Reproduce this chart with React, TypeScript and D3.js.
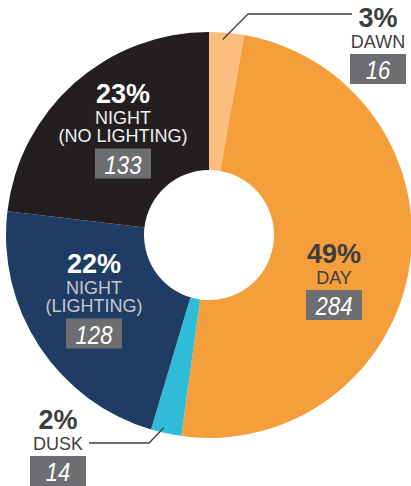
import React from "react";
import * as d3 from "d3";

const categories = ["DAWN", "DAY", "DUSK", "NIGHT (LIGHTING)", "NIGHT (NO LIGHTING)"];
const labelLines = [["DAWN"], ["DAY"], ["DUSK"], ["NIGHT", "(LIGHTING)"], ["NIGHT", "(NO LIGHTING)"]];
const counts = [16, 284, 14, 128, 133];
const colors = ["#FCBD7E", "#F59E3C", "#2FBCD6", "#1F3D64", "#231F20"];
const pctColors = ["#3d3d3f", "#3d3d3f", "#3d3d3f", "#ffffff", "#ffffff"];
const nameColors = ["#414042", "#414042", "#414042", "#C7C8CA", "#F1F1F2"];

// annotation layout (percent-label baseline anchor), separate from data
const labelAnchors = [
  { x: 378, y: 27 },
  { x: 334, y: 263 },
  { x: 58, y: 429 },
  { x: 94, y: 273 },
  { x: 123, y: 103 },
];
// leader lines: elbow & end points for outside labels
const leaders: Record<number, { elbow: [number, number]; end: [number, number]; r: number; angleShift: number }> = {
  0: { elbow: [248, 14], end: [352, 14], r: 196, angleShift: -1 },
  2: { elbow: [149, 443], end: [89, 443], r: 198, angleShift: 1 },
};

const W = 411;
const H = 486;
const cx = 209;
const cy = 235;
const R = 203;
const r0 = 65;

export default function App() {
  const total = d3.sum(counts);
  const pie = d3.pie<number>().sort(null).value((d) => d);
  const arcs = pie(counts);
  const arcGen = d3.arc<d3.PieArcDatum<number>>().innerRadius(r0).outerRadius(R);
  const font = "'Liberation Sans', Arial, Helvetica, sans-serif";

  return (
    <svg
      width={W}
      height={H}
      style={{ position: "absolute", left: 0, top: 0, background: "#fff" }}
      fontFamily={font}
    >
      <g transform={`translate(${cx},${cy})`}>
        {arcs.map((a, i) => (
          <path key={categories[i]} d={arcGen(a) || ""} fill={colors[i]} />
        ))}
      </g>
      {Object.entries(leaders).map(([k, l]) => {
        const a = arcs[+k];
        const mid = (a.startAngle + a.endAngle) / 2 + (l.angleShift * Math.PI) / 180;
        const sx = cx + l.r * Math.sin(mid);
        const sy = cy - l.r * Math.cos(mid);
        return (
          <polyline
            key={k}
            points={`${sx},${sy} ${l.elbow[0]},${l.elbow[1]} ${l.end[0]},${l.end[1]}`}
            fill="none"
            stroke="#414042"
            strokeWidth={1.3}
          />
        );
      })}
      {counts.map((c, i) => {
        const an = labelAnchors[i];
        const pct = Math.round((c / total) * 100);
        const lines = labelLines[i];
        const lastBase = an.y + 20.5 * lines.length + (lines.length > 1 ? -2 : 0);
        const boxTop = lastBase + 6.5;
        const boxW = 56;
        return (
          <g key={categories[i]}>
            <text x={an.x} y={an.y} textAnchor="middle" fontWeight="bold" fontSize={27} fill={pctColors[i]}>
              {pct}%
            </text>
            {lines.map((t, j) => (
              <text
                key={j}
                x={an.x}
                y={an.y + 20.5 + j * 18.5}
                textAnchor="middle"
                fontSize={18}
                fill={nameColors[i]}
              >
                {t}
              </text>
            ))}
            <rect x={an.x - boxW / 2} y={boxTop} width={boxW} height={30} fill="#6D6E71" />
            <text
              transform={`translate(${an.x},${boxTop + 25}) scale(0.85,1)`}
              textAnchor="middle"
              fontSize={26}
              fontStyle="italic"
              fill="#ffffff"
            >
              {c}
            </text>
          </g>
        );
      })}
    </svg>
  );
}
